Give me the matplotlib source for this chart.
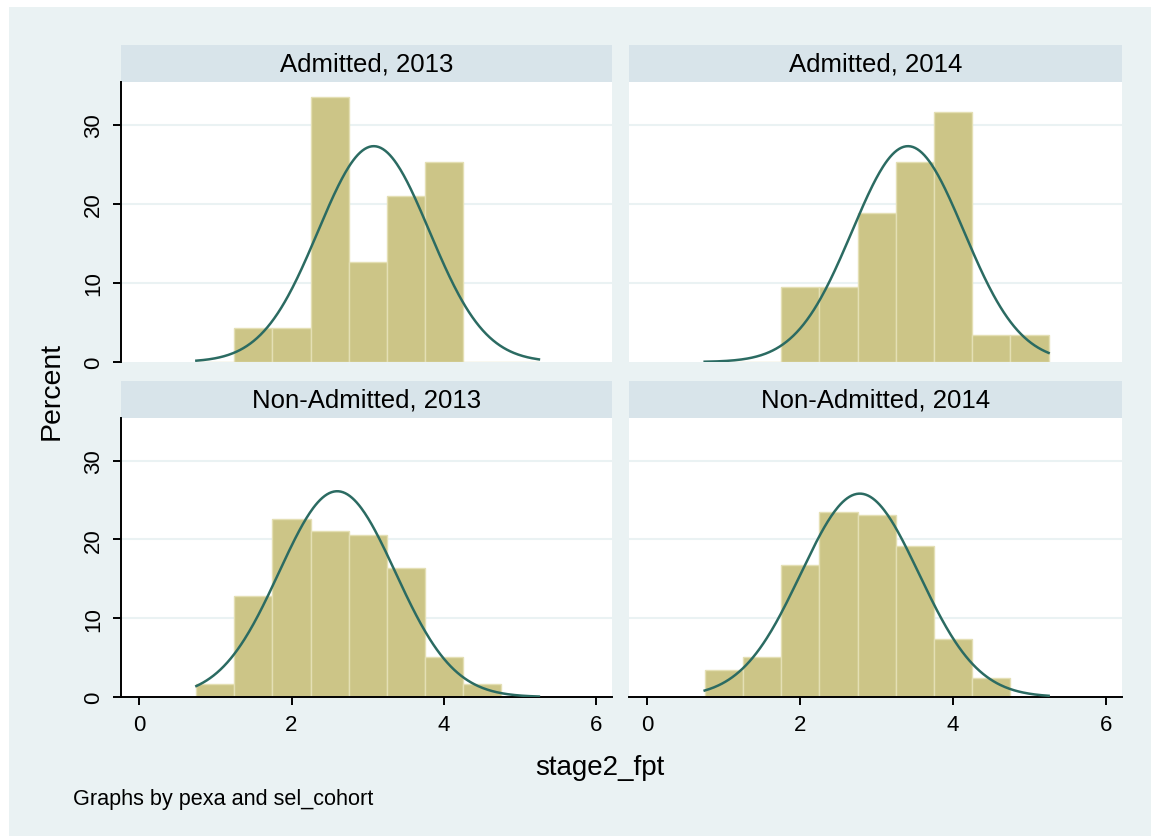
import matplotlib
matplotlib.use("Agg")
import matplotlib.pyplot as plt
from matplotlib.patches import Rectangle
import numpy as np

plt.rcParams['font.family'] = ['Liberation Sans', 'DejaVu Sans']

# histogram bins (left edges, width 0.5) and bar heights in percent
bin_left = [0.75, 1.25, 1.75, 2.25, 2.75, 3.25, 3.75, 4.25, 4.75]
bin_width = 0.5
titles = ["Admitted, 2013", "Admitted, 2014", "Non-Admitted, 2013", "Non-Admitted, 2014"]
adm_2013 = [0, 4.3, 4.3, 33.5, 12.6, 21.0, 25.3, 0, 0]
adm_2014 = [0, 0, 9.5, 9.5, 18.8, 25.3, 31.6, 3.4, 3.4]
non_2013 = [1.7, 12.8, 22.6, 21.1, 20.6, 16.4, 5.1, 1.7, 0]
non_2014 = [3.4, 5.1, 16.8, 23.5, 23.1, 19.1, 7.4, 2.4, 0]
# fitted normal overlay (mean, sd) per panel
norm_mean = [3.08, 3.41, 2.60, 2.78]
norm_sd = [0.731, 0.731, 0.764, 0.773]
curve_range = (0.75, 5.25)

xticks = [0, 2, 4, 6]
yticks = [0, 10, 20, 30]

W, H = 1151, 837
fig = plt.figure(figsize=(W / 100, H / 100), dpi=100, facecolor='white')

def rect(x0, y0, x1, y1):
    return [x0 / W, 1 - y1 / H, (x1 - x0) / W, (y1 - y0) / H]

bg = '#EAF2F3'
strip_col = '#D8E4EA'
bar_col = '#CCC587'
bar_edge = '#E4DFB4'
line_col = '#2B6B62'

fig.patches.append(Rectangle((9 / W, 0), 1 - 9 / W, 1 - 8 / H, transform=fig.transFigure,
                             facecolor=bg, edgecolor='none', zorder=-10))

cols = [(121, 612), (629, 1122)]
rows = [(46, 83, 363), (382, 419, 698)]
data = [adm_2013, adm_2014, non_2013, non_2014]

for i in range(4):
    r, c = divmod(i, 2)
    x0, x1 = cols[c]
    s0, p0, p1 = rows[r]
    # strip with panel title
    fig.patches.append(Rectangle((x0 / W, 1 - p0 / H), (x1 - x0) / W, (p0 - s0) / H,
                                 transform=fig.transFigure, facecolor=strip_col,
                                 edgecolor='none', zorder=-5))
    fig.text((x0 + x1) / 2 / W, 1 - (s0 + p0) / 2 / H, titles[i], fontsize=18.5,
             ha='center', va='center')

    ax = fig.add_axes(rect(x0, p0, x1, p1))
    ax.set_facecolor('white')
    for yy in yticks[1:]:
        ax.axhline(yy, color=bg, lw=1.5, zorder=0)
    ax.bar(bin_left, data[i], width=bin_width, align='edge', color=bar_col,
           edgecolor=bar_edge, linewidth=1.0, zorder=2)
    xs = np.linspace(curve_range[0], curve_range[1], 300)
    ys = 100 * bin_width * np.exp(-0.5 * ((xs - norm_mean[i]) / norm_sd[i]) ** 2) / (norm_sd[i] * np.sqrt(2 * np.pi))
    ax.plot(xs, ys, color=line_col, lw=1.8, zorder=3)

    ax.set_xlim(-0.24, 6.21)
    ax.set_ylim(0, 35.4)
    for sp in ax.spines.values():
        sp.set_visible(False)
    ax.tick_params(length=6, width=1.4, color='black', labelsize=16)
    if c == 0:
        ax.spines['left'].set_visible(True)
        ax.spines['left'].set_linewidth(1.4)
        ax.set_yticks(yticks)
        ax.set_yticklabels([str(v) for v in yticks], rotation=90, va='center')
        ax.tick_params(axis='y', pad=6)
    else:
        ax.set_yticks([])
    if r == 1:
        ax.spines['bottom'].set_visible(True)
        ax.spines['bottom'].set_linewidth(1.4)
        ax.set_xticks(xticks)
        ax.tick_params(axis='x', pad=6)
    else:
        ax.set_xticks([])

fig.text(52 / W, 1 - 391 / H, "Percent", rotation=90, fontsize=20.5, ha='center', va='center')
fig.text(600 / W, 1 - 768 / H, "stage2_fpt", fontsize=20, ha='center', va='center')
fig.text(73 / W, 1 - 800 / H, "Graphs by pexa and sel_cohort", fontsize=15.6, ha='left', va='center')

fig.savefig("out.png", dpi=100, facecolor='white')
